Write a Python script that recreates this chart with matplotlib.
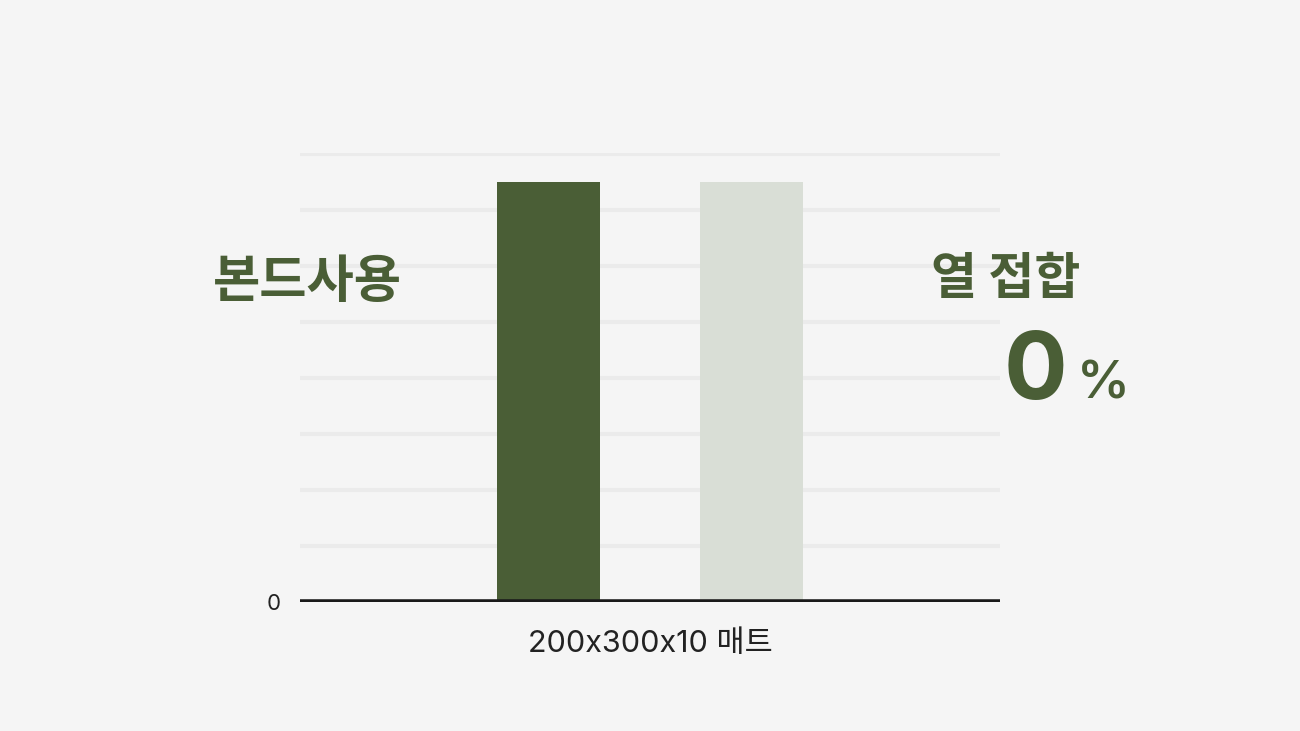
import numpy as np
from matplotlib import pyplot as plt

# chart data
categories = ['200x300x10 매트']
series_names = ['본드사용', '열 접합']
values = [7.5, 7.5]
grid_ticks = [1, 2, 3, 4, 5, 6, 7, 8]
percent_text = '0'

bg = '#f5f5f5'
green = '#4a5e36'
light = '#d9ded6'

plt.rcParams['font.family'] = ['Noto Sans CJK KR', 'DejaVu Sans']

fig = plt.figure(figsize=(13, 7.31), dpi=100, facecolor=bg)
ax = fig.add_axes([300/1300, 1-602/731, 700/1300, (602-153)/731])
ax.set_facecolor(bg)

x = np.arange(len(values))
ax.bar(x, values, width=0.507, color=[green, light], zorder=2)

ax.set_xlim(-1.224, 2.224)
ax.set_ylim(0, 8.02)
for t in grid_ticks:
    ax.axhline(t, color='#ebebeb', lw=3, zorder=1)
ax.axhline(0, color='#1a1a1a', lw=4, zorder=3)

for s in ax.spines.values():
    s.set_visible(False)
ax.set_yticks([0])
ax.set_yticklabels(['0'], fontsize=16, color='#222222', family=['Inter', 'DejaVu Sans'])
ax.tick_params(axis='y', length=0, pad=14)
ax.set_xticks([0.5])
ax.set_xticklabels(categories, fontsize=22, color='#222222',
                   family=['Inter', 'Noto Sans CJK KR'])
ax.tick_params(axis='x', length=0, pad=20)

# big labels
fig.text(307/1300, 1-282/731, series_names[0], fontsize=37, fontweight='bold',
         color=green, ha='center', va='center')
fig.text(1006/1300, 1-280/731, series_names[1], fontsize=36, fontweight='bold',
         color=green, ha='center', va='center')
fig.text(1067/1300, 1-399/731, percent_text, fontsize=68, fontweight='bold',
         color=green, ha='right', va='baseline', family=['Inter', 'DejaVu Sans'])
fig.text(1077/1300, 1-399/731, '%', fontsize=38, fontweight='semibold',
         color=green, ha='left', va='baseline', family=['Inter', 'DejaVu Sans'])

fig.savefig('out.png', dpi=100, facecolor=bg)
